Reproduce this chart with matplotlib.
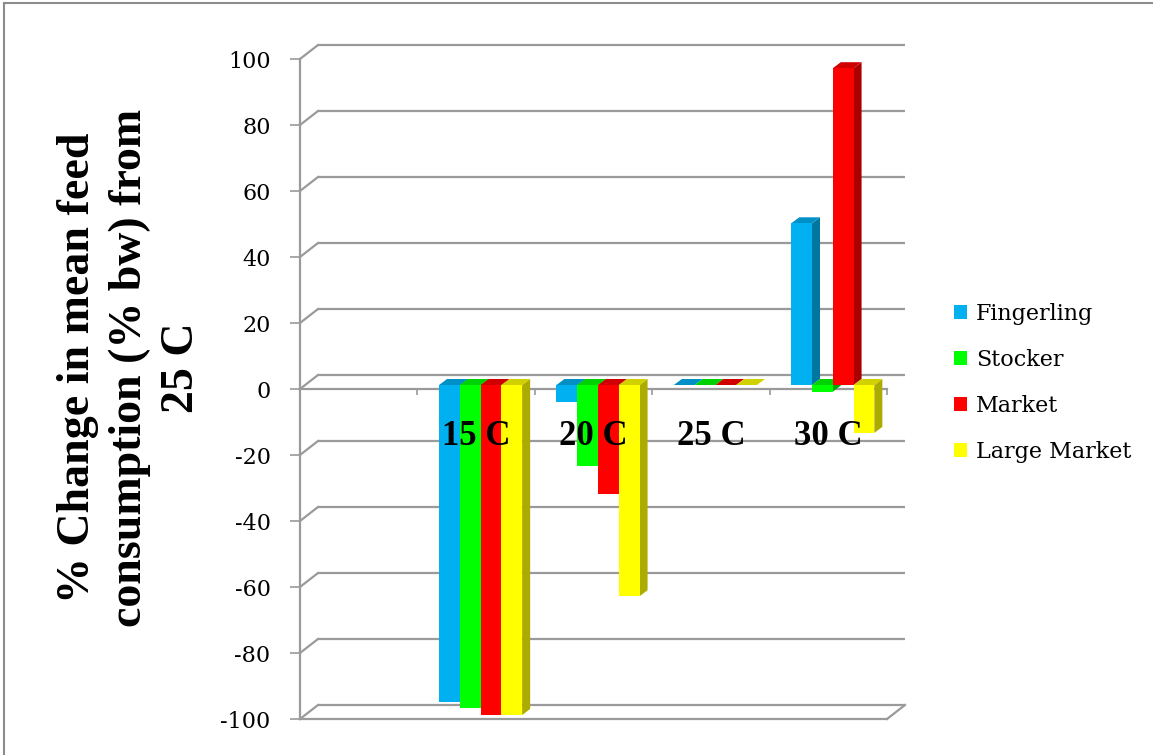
import numpy as np
import matplotlib
matplotlib.use('Agg')
import matplotlib.pyplot as plt
from matplotlib.patches import Polygon, Patch
from matplotlib.lines import Line2D
import matplotlib.colors as mcolors

# ---------------- data ----------------
categories = ['', '15 C', '20 C', '25 C', '30 C']
series_names = ['Fingerling', 'Stocker', 'Market', 'Large Market']
fingerling = [np.nan, -96, -5, 0, 49]
stocker = [np.nan, -98, -24.5, 0, -2]
market = [np.nan, -100, -33, 0, 96]
large_market = [np.nan, -100, -64, 0, -14.5]
y_ticks = list(range(-100, 101, 20))
series_values = [fingerling, stocker, market, large_market]
series_colors = ['#00B0F0', '#00FF00', '#FF0000', '#FFFF00']

# ---------------- figure ----------------
W, H = 1153, 755
fig = plt.figure(figsize=(W / 100, H / 100), dpi=100)
ax = fig.add_axes([300 / W, 1 - 719 / H, 587 / W, 660 / H])
ncat = len(categories)
ax.set_xlim(0, ncat)
ax.set_ylim(-100, 100)
fig.canvas.draw()

def px_to_data(dx_px, dy_px):
    p0 = ax.transData.transform((0, 0))
    p1 = ax.transData.inverted().transform(p0 + np.array([dx_px, dy_px]))
    return p1[0], p1[1]

GRID = '#9a9a9a'
SERIF = 'DejaVu Serif'
SERIF_B = 'Liberation Serif'

# wall depth offsets
DX, DY = px_to_data(18, 14)
# bar plane offset and bar depth
BPX, BPY = px_to_data(4.5, 4)
BDX, BDY = px_to_data(8, 6)

# back wall gridlines + side wall diagonals
for t in y_ticks:
    ax.plot([DX, ncat + DX], [t + DY, t + DY], color=GRID, lw=1.6, zorder=1,
            clip_on=False, solid_capstyle='butt')
    ax.plot([0, DX], [t, t + DY], color=GRID, lw=1.6, zorder=1, clip_on=False)
# floor front edge and right diagonal
ax.plot([0, ncat], [-100, -100], color=GRID, lw=1.6, zorder=1, clip_on=False)
ax.plot([ncat, ncat + DX], [-100, -100 + DY], color=GRID, lw=1.6, zorder=1,
        clip_on=False)

# axes styling
for s in ['top', 'right', 'bottom']:
    ax.spines[s].set_visible(False)
ax.spines['left'].set_color(GRID)
ax.spines['left'].set_linewidth(1.6)
ax.spines['left'].set_zorder(2)
ax.set_yticks(y_ticks)
ax.set_yticklabels([str(t) for t in y_ticks], fontfamily=SERIF, fontsize=16)
ax.tick_params(axis='y', direction='out', length=7.2, width=1.2, color=GRID,
               pad=14)
ax.set_xticks(range(ncat + 1))
ax.set_xticklabels([])
ax.tick_params(axis='x', direction='out', length=4.5, width=1.2, color=GRID)
ax.spines['bottom'].set_visible(True)
ax.spines['bottom'].set_position(('data', 0))
ax.spines['bottom'].set_color(GRID)
ax.spines['bottom'].set_linewidth(1.6)
ax.spines['bottom'].set_zorder(2)
ax.patch.set_visible(False)

# bars (front faces via ax.bar, plus side/top faces)
nser = len(series_values)
bw = 0.177
zo = 3
for i in range(ncat):
    for j in range(nser):
        v = series_values[j][i]
        if np.isnan(v):
            continue
        xc = i + 0.5 + (j - (nser - 1) / 2) * bw + BPX
        col = np.array(mcolors.to_rgb(series_colors[j]))
        side = col * 0.67
        top = col * 0.82
        x0, x1 = xc - bw / 2, xc + bw / 2
        ytop = max(v, 0) + BPY
        ybot = min(v, 0) + BPY
        side_poly = Polygon([(x1, ybot), (x1 + BDX, ybot + BDY),
                             (x1 + BDX, ytop + BDY), (x1, ytop)],
                            closed=True, facecolor=side, edgecolor='none',
                            zorder=zo, clip_on=False)
        ax.add_patch(side_poly)
        top_poly = Polygon([(x0, ytop), (x1, ytop), (x1 + BDX, ytop + BDY),
                            (x0 + BDX, ytop + BDY)],
                           closed=True, facecolor=top, edgecolor='none',
                           zorder=zo, clip_on=False)
        ax.add_patch(top_poly)
        ax.bar(xc, v, width=bw, bottom=BPY, color=series_colors[j],
               edgecolor='none', zorder=zo + 0.5, clip_on=False)
        zo += 1

# category labels
for i, c in enumerate(categories):
    if c:
        ax.text(i + 0.5, -14.5, c, ha='center', va='center',
                fontfamily=SERIF_B, fontweight='bold', fontsize=25, zorder=100)

# y label
fig.text(130 / W, 1 - 368 / H,
         '% Change in mean feed\nconsumption (% bw) from\n25 C',
         rotation=90, ha='center', va='center', multialignment='center',
         fontfamily=SERIF_B, fontweight='bold', fontsize=33, linespacing=1.3)

# legend
handles = [Patch(facecolor=c, edgecolor='none') for c in series_colors]
fig.legend(handles, series_names, loc='center left',
           bbox_to_anchor=(954 / W, 1 - 383 / H), frameon=False,
           prop={'family': SERIF, 'size': 16}, handlelength=0.6,
           handleheight=0.6, handletextpad=0.4, labelspacing=1.08,
           borderpad=0, borderaxespad=0)

# chart border (top and left edges visible)
fig.add_artist(Line2D([4 / W, 1.0], [1 - 3 / H, 1 - 3 / H], color='#8c8c8c',
                      lw=1.5, transform=fig.transFigure))
fig.add_artist(Line2D([4 / W, 4 / W], [0, 1 - 3 / H], color='#8c8c8c',
                      lw=1.5, transform=fig.transFigure))

fig.savefig('out.png', dpi=100)
